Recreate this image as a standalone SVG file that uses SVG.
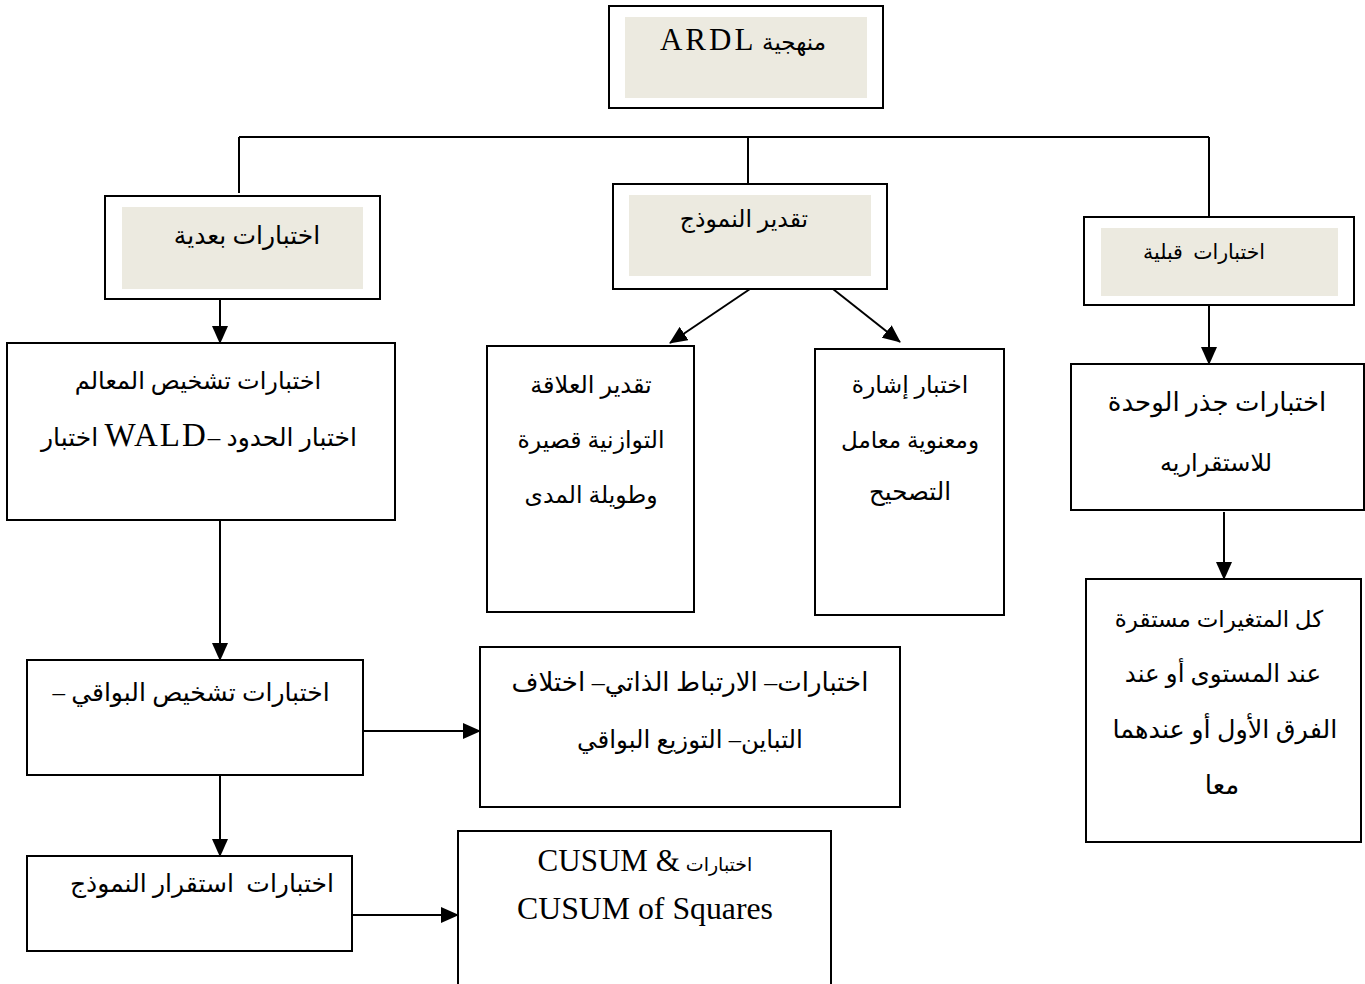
<svg xmlns="http://www.w3.org/2000/svg" width="1365" height="984" viewBox="0 0 1365 984">
<style>
.box{fill:#fff;stroke:#000;stroke-width:2}
.inner{fill:#ECEAE0;stroke:none}
.ln{fill:none;stroke:#000;stroke-width:2}
.ar{fill:none;stroke:#000;stroke-width:2;marker-end:url(#ah)}
text{font-family:"Liberation Serif","DejaVu Sans",serif;fill:#000;direction:rtl;unicode-bidi:embed;text-anchor:middle;font-size:24px}
.ltr{direction:ltr}
.lat{font-family:"Liberation Serif",serif}
</style>
<defs>
<marker id="ah" markerUnits="userSpaceOnUse" markerWidth="18" markerHeight="16" refX="17" refY="8" orient="auto">
<path d="M0,0 L18,8 L0,16 Z" fill="#000"/>
</marker>
</defs>
<rect width="1365" height="984" fill="#fff"/>
<g id="connectors">
<path class="ln" d="M239,137 H1209 M239,137 V193 M748,137 V184 M1209,137 V217"/>
<path class="ar" d="M220,299 V343"/>
<path class="ar" d="M220,520 V660"/>
<path class="ar" d="M220,775 V856"/>
<path class="ar" d="M363,731 H480"/>
<path class="ar" d="M352,915 H458"/>
<path class="ar" d="M750,289 L670,343"/>
<path class="ar" d="M833,289 L900,342"/>
<path class="ar" d="M1209,305 V364"/>
<path class="ar" d="M1224,512 V579"/>
</g>
<g id="n-ardl">
<rect class="box" x="609" y="6" width="274" height="102"/>
<rect class="inner" x="625" y="17" width="242" height="81"/>
<text x="743" y="50" style="font-size:23px">منهجية <tspan class="lat" font-size="31" letter-spacing="3">ARDL</tspan></text>
</g>
<g id="n-post">
<rect class="box" x="105" y="196" width="275" height="103"/>
<rect class="inner" x="122" y="207" width="241" height="82"/>
<text x="247" y="244" style="font-size:25px">اختبارات بعدية</text>
</g>
<g id="n-est">
<rect class="box" x="613" y="184" width="274" height="105"/>
<rect class="inner" x="629" y="195" width="242" height="81"/>
<text x="744" y="227" style="font-size:23.5px">تقدير النموذج</text>
</g>
<g id="n-pre">
<rect class="box" x="1084" y="217" width="270" height="88"/>
<rect class="inner" x="1101" y="228" width="237" height="68"/>
<text x="1204" y="259" xml:space="preserve" style="font-size:20.5px">اختبارات  قبلية</text>
</g>
<g id="n-params">
<rect class="box" x="7" y="343" width="388" height="177"/>
<text x="198" y="389" style="font-size:24px">اختبارات تشخيص المعالم</text>
<text class="ltr" x="199" y="446" style="font-size:25px">اختبار <tspan class="lat" font-size="33" letter-spacing="2">WALD</tspan>– اختبار الحدود</text>
</g>
<g id="n-resid">
<rect class="box" x="27" y="660" width="336" height="115"/>
<text class="ltr" x="191" y="701" style="font-size:25px">– اختبارات تشخيص البواقي</text>
</g>
<g id="n-residtests">
<rect class="box" x="480" y="647" width="420" height="160"/>
<text x="690" y="691" style="font-size:26px">اختبارات– الارتباط الذاتي– اختلاف</text>
<text x="690" y="748" style="font-size:24.5px">التباين– التوزيع البواقي</text>
</g>
<g id="n-stab">
<rect class="box" x="27" y="856" width="325" height="95"/>
<text x="202" y="892" xml:space="preserve" style="font-size:25px">اختبارات  استقرار النموذج</text>
</g>
<g id="n-cusum">
<rect class="box" x="458" y="831" width="373" height="160"/>
<text x="645" y="871"><tspan font-size="19">اختبارات</tspan> <tspan class="lat" font-size="31">&amp; CUSUM</tspan></text>
<text class="lat ltr" x="645" y="919" textLength="256" lengthAdjust="spacingAndGlyphs" style="font-size:31px">CUSUM of Squares</text>
</g>
<g id="n-relation">
<rect class="box" x="487" y="346" width="207" height="266"/>
<text x="591" y="393" style="font-size:24px">تقدير العلاقة</text>
<text x="591" y="448" style="font-size:23.5px">التوازنية قصيرة</text>
<text x="591" y="503" style="font-size:23.5px">وطويلة المدى</text>
</g>
<g id="n-ecm">
<rect class="box" x="815" y="349" width="189" height="266"/>
<text x="910" y="393" style="font-size:23.5px">اختبار إشارة</text>
<text x="910" y="448" style="font-size:23px">ومعنوية معامل</text>
<text x="910" y="500" style="font-size:24.5px">التصحيح</text>
</g>
<g id="n-unitroot">
<rect class="box" x="1071" y="364" width="293" height="146"/>
<text x="1217" y="411" style="font-size:26px">اختبارات جذر الوحدة</text>
<text x="1216" y="471" style="font-size:24px">للاستقراريه</text>
</g>
<g id="n-stationary">
<rect class="box" x="1086" y="579" width="275" height="263"/>
<text x="1219" y="627" style="font-size:23px">كل المتغيرات مستقرة</text>
<text x="1223" y="682" style="font-size:24.5px">عند المستوى أو عند</text>
<text x="1225" y="738" style="font-size:25.5px">الفرق الأول أو عندهما</text>
<text x="1222" y="794" style="font-size:26px">معا</text>
</g>
</svg>
